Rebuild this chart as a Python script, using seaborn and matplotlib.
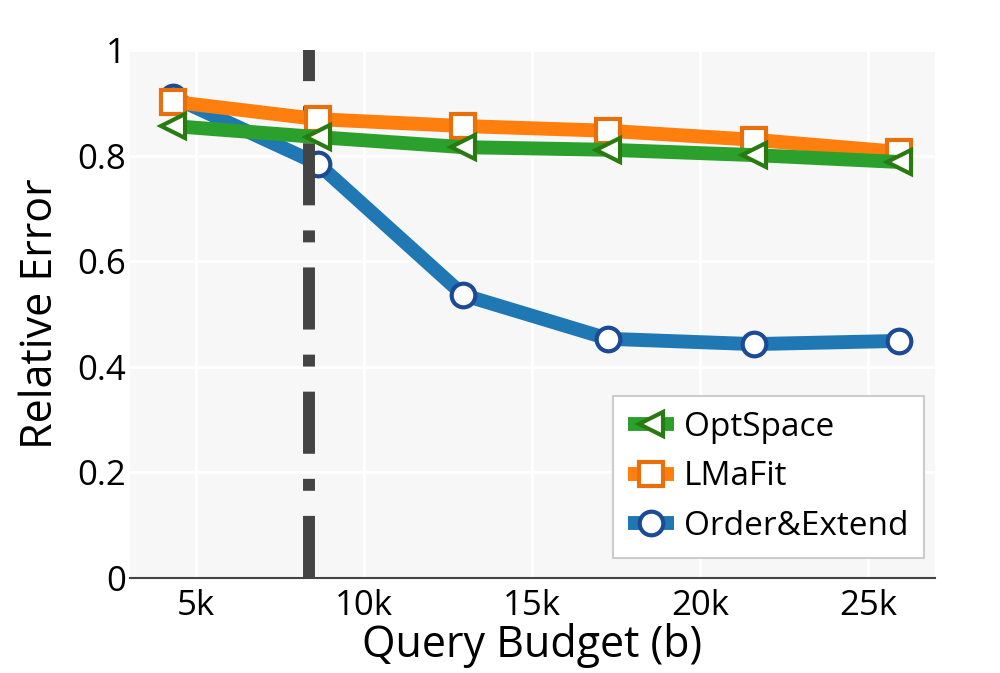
import matplotlib
matplotlib.use("Agg")
import matplotlib.pyplot as plt
import seaborn as sns
import pandas as pd

budget = [4320, 8640, 12960, 17280, 21600, 25920]
optspace = [0.856, 0.835, 0.816, 0.811, 0.801, 0.788]
lmafit = [0.902, 0.869, 0.856, 0.847, 0.830, 0.807]
order_extend = [0.911, 0.784, 0.536, 0.453, 0.443, 0.449]
vline_x = 8360
xticks = [5000, 10000, 15000, 20000, 25000]
xtick_labels = ["5k", "10k", "15k", "20k", "25k"]
yticks = [0, 0.2, 0.4, 0.6, 0.8, 1.0]
ytick_labels = ["0", "0.2", "0.4", "0.6", "0.8", "1"]

sns.set_theme(style="white")
plt.rcParams["font.family"] = ["Open Sans", "DejaVu Sans"]
plt.rcParams["text.color"] = "black"
plt.rcParams["axes.labelcolor"] = "black"

fig = plt.figure(figsize=(10, 6.73), dpi=100)
ax = fig.add_axes([0.130, 1 - 578 / 673, 0.805, 528 / 673])
ax.set_facecolor("#f7f7f7")

df = pd.DataFrame({"budget": budget, "OptSpace": optspace,
                   "LMaFit": lmafit, "Order&Extend": order_extend})

lw = 10
sns.lineplot(data=df, x="budget", y="Order&Extend", ax=ax, color="#1f77b4",
             linewidth=lw, marker="o", markersize=17, markerfacecolor="white",
             markeredgecolor="#1c4a94", markeredgewidth=3, zorder=3,
             solid_capstyle="butt", label="Order&Extend")
ax.axvline(vline_x, color="#444444", linewidth=8.6, dashes=(5.2, 2.1, 1, 2.1),
           solid_capstyle="butt", dash_capstyle="butt", zorder=4)
sns.lineplot(data=df, x="budget", y="LMaFit", ax=ax, color="#ff7f0e",
             linewidth=lw, marker="s", markersize=17, markerfacecolor="white",
             markeredgecolor="#e8700c", markeredgewidth=3, zorder=5,
             solid_capstyle="butt", label="LMaFit")
sns.lineplot(data=df, x="budget", y="OptSpace", ax=ax, color="#2ca02c",
             linewidth=lw, marker="<", markersize=17, markerfacecolor="white",
             markeredgecolor="#2a7a12", markeredgewidth=3, zorder=6,
             solid_capstyle="butt", label="OptSpace")

ax.set_xlim(3040, 27000)
ax.set_ylim(0, 1.0)
ax.set_xticks(xticks)
ax.set_xticklabels(xtick_labels)
ax.set_yticks(yticks)
ax.set_yticklabels(ytick_labels)
ax.grid(True, color="white", linewidth=2)
ax.set_axisbelow(True)
for s in ["top", "right", "left"]:
    ax.spines[s].set_visible(False)
ax.spines["bottom"].set_color("#444444")
ax.spines["bottom"].set_linewidth(1.5)
ax.spines["bottom"].set_zorder(2)
ax.tick_params(axis="both", length=0, labelsize=25, colors="black")
ax.tick_params(axis="x", pad=8)
ax.tick_params(axis="y", pad=3)
ax.set_xlabel("Query Budget (b)", fontsize=31, labelpad=0, color="black")
ax.set_ylabel("Relative Error", fontsize=31, labelpad=10, color="black")

handles, labels = ax.get_legend_handles_labels()
order = [labels.index(l) for l in ["OptSpace", "LMaFit", "Order&Extend"]]
leg = ax.legend([handles[i] for i in order], [labels[i] for i in order],
                loc="lower right", bbox_to_anchor=(0.986, 0.038),
                fontsize=24, frameon=True, fancybox=False, framealpha=1,
                handlelength=1.4, handletextpad=0.3, borderpad=0.45,
                labelspacing=0.5, borderaxespad=0)
leg.get_frame().set_edgecolor("#cccccc")
leg.get_frame().set_linewidth(1.5)
leg.set_zorder(10)
for t in leg.get_texts():
    t.set_color("black")

fig.savefig("out.png", dpi=100, facecolor="white")
